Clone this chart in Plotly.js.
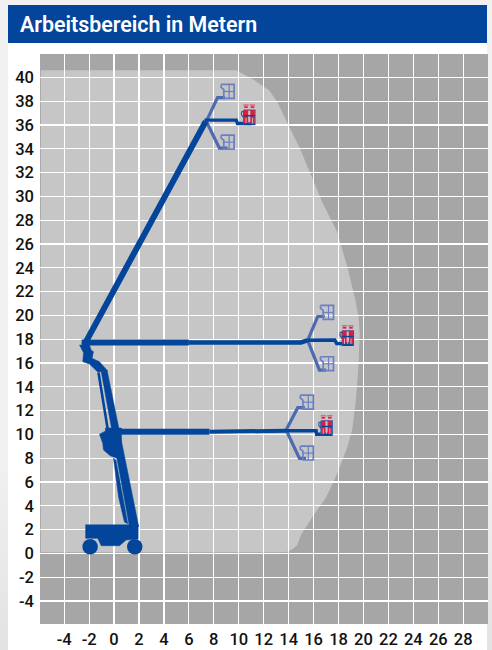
<!DOCTYPE html>
<html><head><meta charset="utf-8">
<script src="https://cdn.plot.ly/plotly-3.0.1.min.js"></script>
<style>
html,body{margin:0;padding:0;width:492px;height:650px;overflow:hidden;background:linear-gradient(#f1f1f1 70%,#e3e3e3);}
#card{position:absolute;left:8px;top:5px;width:479px;height:645px;background:#fff;}
#head{position:absolute;left:8px;top:5px;width:479px;height:38px;background:#03459a;}
#plot{position:absolute;left:0;top:0;width:492px;height:650px;}
</style></head><body>
<div id="card"></div><div id="head"></div><div id="plot"></div>
<script>
var titleText = 'Arbeitsbereich in Metern';
var xTicks = [-4,-2,0,2,4,6,8,10,12,14,16,18,20,22,24,26,28];
var yTicks = [-4,-2,0,2,4,6,8,10,12,14,16,18,20,22,24,26,28,30,32,34,36,38,40];

// working envelope
var areaX = [-5.87,9.8,10.5,11.2,12.45,13.1,14.07,14.87,15.8,16.7,17.9,18.3,18.7,19.35,19.6,19.7,19.6,19.4,19.1,18.7,17.9,17.0,15.9,15.0,14.85,14.7,14.3,13.8,-5.87];
var areaY = [40.6,40.6,40.2,39.8,38.9,37.9,35.8,34.1,31.8,29.5,27.0,25.5,24.1,21.3,19.9,18.5,15.7,12.9,10.4,8.9,6.7,4.7,3.05,1.55,1.1,0.7,0.35,0.1,0.1];

// booms
var boomTopX = [-2.4,7.35]; var boomTopY = [17.5,36.3];
var boomMidX = [-2.6,6.0];  var boomMidY = [17.72,17.72];
var boomMid2X = [6.0,15.0,15.5]; var boomMid2Y = [17.72,17.72,17.9];
var boomLowX = [0.3,7.65];  var boomLowY = [10.22,10.22];
var boomLow2X = [7.65,13.8]; var boomLow2Y = [10.22,10.3];

// arms to the working position
var armTopX = [7.25,9.8,9.9,11.0];   var armTopY = [36.4,36.4,36.12,36.12];
var armMidX = [15.5,17.7,17.85,19.1]; var armMidY = [17.9,17.93,17.63,17.6];
var armLowX = [13.8,16.2,16.25,17.4]; var armLowY = [10.3,10.3,10.0,10.0];

// faded arm positions
var ghostTopUpX = [7.4,8.3,8.9];    var ghostTopUpY = [36.3,38.3,38.3];
var ghostTopDnX = [7.4,8.45,9.1];   var ghostTopDnY = [36.3,34.05,34.05];
var ghostMidUpX = [15.53,16.33,16.9]; var ghostMidUpY = [17.9,19.9,19.9];
var ghostMidDnX = [15.53,16.47,17.0]; var ghostMidDnY = [17.9,15.4,15.4];
var ghostLowUpX = [13.8,14.73,15.3];  var ghostLowUpY = [10.36,12.24,12.24];
var ghostLowDnX = [13.8,14.87,15.4];  var ghostLowDnY = [10.36,7.98,7.98];

// basket anchors (right, bottom)
var ghostBasketX = [9.65,9.65,17.62,17.62,16.0,16.0];
var ghostBasketY = [38.23,33.97,19.66,15.35,12.12,7.84];
var realBasketX = [11.3,19.2,17.5];
var realBasketY = [36.05,17.5,9.94];

// chassis and column
var chassisX = [-2.28,1.93,1.93,0.97,0.43,-1.03,-1.31,-2.28];
var chassisY = [2.39,2.39,1.2,1.12,0.64,0.64,1.26,1.26];
var wheelX = [-1.92,1.66]; var wheelY = [0.56,0.56];
var columnX = [-0.55,1.98,1.23,-1.03]; var columnY = [15.35,2.24,2.24,15.26];
var jointX = [-2.77,-2.45,-2.51,-1.97,-1.31,-0.51,-1.17,-1.76,-1.65,-1.84,-1.97];
var jointY = [17.5,16.86,16.1,15.9,15.24,15.32,16.1,16.39,16.94,17.08,17.5];
var blockX = [-1.17,-0.69,-0.69,0.59,0.59,0.03,-0.31,-0.85,-0.91,-1.09];
var blockY = [10.0,10.28,10.53,10.53,7.84,8.09,8.2,8.68,9.24,9.77];
var strip1X = [-1.25,-0.52]; var strip1Y = [15.2,10.5];
var strip2X = [-0.05,0.36,0.83,1.1,0.16]; var strip2Y = [8.0,4.73,2.63,2.48,7.8];

var BLUE='#03459a', GHOST='#4d69b1', GHOSTBOX='#6a80c0', RED='#dc1f3f', HAT='#e8667f';
var traces=[];
function poly(x,y,c){traces.push({type:'scatter',mode:'lines',x:x.concat([x[0]]),y:y.concat([y[0]]),fill:'toself',fillcolor:c,line:{color:c,width:0.5},hoverinfo:'skip'});}
function line(x,y,c,w){traces.push({type:'scatter',mode:'lines',x:x,y:y,line:{color:c,width:w,shape:'linear'},hoverinfo:'skip'});}

traces.push({type:'scatter',mode:'lines',x:areaX,y:areaY,fill:'toself',fillcolor:'rgba(255,255,255,0.36)',line:{width:0},hoverinfo:'skip'});

[[ghostTopUpX,ghostTopUpY],[ghostTopDnX,ghostTopDnY],[ghostMidUpX,ghostMidUpY],[ghostMidDnX,ghostMidDnY],[ghostLowUpX,ghostLowUpY],[ghostLowDnX,ghostLowDnY]].forEach(function(a){line(a[0],a[1],GHOST,3.2);});

function joinOff(ax,ay,segs){var X=[],Y=[];ax.forEach(function(rx,i){segs.forEach(function(s){for(var k=0;k<s.length;k+=2){X.push(rx+s[k]);Y.push(ay[i]+s[k+1]);}X.push(null);Y.push(null);});});return [X,Y];}

// ghost basket glyph, offsets from its lower right corner
var ghostOutline=[[-1.06,1.17,-0.02,1.17,-0.02,0.0,-0.85,0.0,-0.85,0.75,-1.06,0.92,-1.06,1.17]];
var ghostCross=[[-0.42,1.17,-0.42,0.0],[-0.85,0.58,-0.02,0.58]];
var g1=joinOff(ghostBasketX,ghostBasketY,ghostOutline); line(g1[0],g1[1],GHOSTBOX,1.7);
var g2=joinOff(ghostBasketX,ghostBasketY,ghostCross); line(g2[0],g2[1],GHOSTBOX,1.2);

line(boomTopX,boomTopY,BLUE,6);
line(boomMidX,boomMidY,BLUE,6);
line(boomMid2X,boomMid2Y,BLUE,4.6);
line(boomLowX,boomLowY,BLUE,6);
line(boomLow2X,boomLow2Y,BLUE,4);
line(armTopX,armTopY,BLUE,3.4);
line(armMidX,armMidY,BLUE,3.4);
line(armLowX,armLowY,BLUE,3.4);

// operator basket glyph: body, head, hat, legs, band, outline
var bodies=[[-0.72,0.1,-0.72,1.2],[-0.2,0.1,-0.2,1.2]];
var heads=[[-0.72,1.38,-0.72,1.52],[-0.2,1.38,-0.2,1.52]];
var hats=[[-0.93,1.62,-0.5,1.62],[-0.41,1.62,0.01,1.62]];
var legs=[[-0.72,0.1,-0.72,0.55],[-0.2,0.1,-0.2,0.55],[-0.46,0.1,-0.46,0.55]];
var band=[[-0.88,0.72,0,0.72]];
var outline=[[-1.08,1.06,-0.9,1.06,-0.9,0.55,-1.08,0.8,-1.08,1.06],[-0.9,1.2,0,1.2,0,0,-0.9,0,-0.9,1.2]];
var p;
p=joinOff(realBasketX,realBasketY,outline); line(p[0],p[1],'#2f5aa8',1.2);
p=joinOff(realBasketX,realBasketY,bodies); line(p[0],p[1],RED,4.4);
p=joinOff(realBasketX,realBasketY,heads); line(p[0],p[1],RED,3.6);
p=joinOff(realBasketX,realBasketY,hats); line(p[0],p[1],HAT,1.6);
p=joinOff(realBasketX,realBasketY,legs); line(p[0],p[1],'#c9b5c8',1);
p=joinOff(realBasketX,realBasketY,band); line(p[0],p[1],BLUE,1.4);
p=joinOff(realBasketX,realBasketY,[[-0.9,0,0,0]]); line(p[0],p[1],BLUE,1.6);

poly(columnX,columnY,BLUE);
poly(jointX,jointY,BLUE);
poly(blockX,blockY,BLUE);
line(strip1X,strip1Y,BLUE,2.6);
poly(strip2X,strip2Y,BLUE);
poly(chassisX,chassisY,BLUE);
traces.push({type:'scatter',mode:'markers',x:wheelX,y:wheelY,marker:{color:BLUE,size:15.5,line:{width:0}},hoverinfo:'skip'});

var tickFont={family:'Roboto, sans-serif',size:16.5,color:'#111',weight:500};
var layout={
  width:492,height:650,autosize:false,showlegend:false,
  paper_bgcolor:'rgba(0,0,0,0)',plot_bgcolor:'#a6a6a6',
  margin:{l:40,r:4,t:54,b:26,pad:0},
  title:{text:titleText,font:{family:'Roboto, sans-serif',size:21.4,color:'#fff',weight:600},x:20/492,xanchor:'left',xref:'container',y:(650-25)/650,yanchor:'middle',yref:'container'},
  xaxis:{range:[-5.94,29.99],tickmode:'array',tickvals:xTicks,ticktext:xTicks.map(String),showgrid:true,gridcolor:'#fff',gridwidth:1.2,zeroline:true,zerolinecolor:'#fff',zerolinewidth:1.2,showline:false,ticks:'',tickfont:tickFont,ticklabelstandoff:3,fixedrange:true},
  yaxis:{range:[-5.94,41.96],tickmode:'array',tickvals:yTicks,ticktext:yTicks.map(String),showgrid:true,gridcolor:'#fff',gridwidth:1.2,zeroline:true,zerolinecolor:'#fff',zerolinewidth:1.2,showline:false,ticks:'',tickfont:tickFont,ticklabelstandoff:5,fixedrange:true}
};
Plotly.newPlot('plot',traces,layout,{displayModeBar:false,staticPlot:true});
</script></body></html>
